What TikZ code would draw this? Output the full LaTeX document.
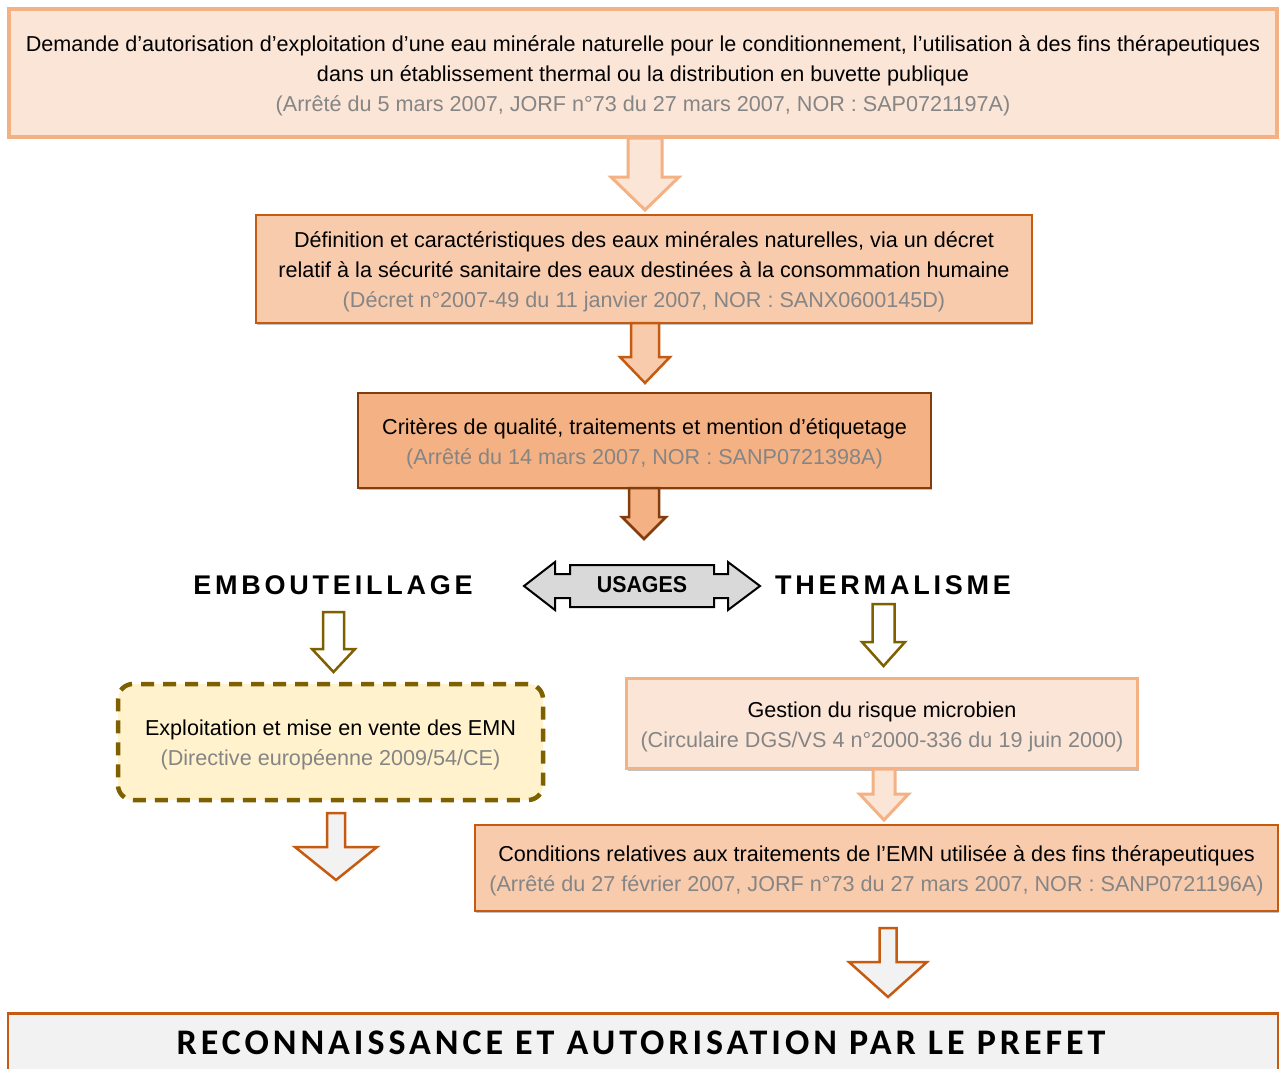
\documentclass[tikz,border=0pt]{standalone}
\usepackage{fontspec}
\setmainfont{Liberation Sans}
\newfontfamily\spacedfont[LetterSpace=14]{Liberation Sans}
\newfontfamily\calibfont[LetterSpace=11]{Carlito}
\newfontfamily\usagefont[FakeStretch=0.93]{Liberation Sans}
\usetikzlibrary{shadows}
\definecolor{peachL}{HTML}{FBE5D6}
\definecolor{peachLb}{HTML}{F4B183}
\definecolor{peachM}{HTML}{F8CBAD}
\definecolor{peachMb}{HTML}{C55A11}
\definecolor{peachD}{HTML}{F4B183}
\definecolor{peachDb}{HTML}{843C0C}
\definecolor{olive}{HTML}{7F6000}
\definecolor{creamy}{HTML}{FFF2CC}
\definecolor{lightgr}{HTML}{F2F2F2}
\definecolor{usagegr}{HTML}{D9D9D9}
\definecolor{refgray}{HTML}{858585}
\newcommand{\barrow}[7]{%
  \draw[#1] ({#2-#4},#3) -- ({#2+#4},#3) -- ({#2+#4},#5) -- ({#2+#6},#5)
    -- (#2,#7) -- ({#2-#6},#5) -- ({#2-#4},#5) -- cycle;}
\newcommand{\refs}[1]{\textcolor{refgray}{#1}}
\begin{document}
\begin{tikzpicture}[x=1pt,y=-1pt,
  box/.style={draw, rectangle, inner sep=0pt},
  txt/.style={align=center, inner sep=0pt, font=\fontsize{21.6}{30}\selectfont},
  shad/.style={drop shadow={shadow xshift=1pt,shadow yshift=-2pt,fill=black!40,opacity=0.6}},
  lightbox/.style={box, shad, fill=peachL, draw=peachLb, line width=3.5pt},
  midbox/.style={box, shad, fill=peachM, draw=peachMb, line width=2.5pt},
  darkbox/.style={box, shad, fill=peachD, draw=peachDb, line width=2.5pt},
  lightarr/.style={fill=peachL, draw=peachLb, line width=3pt, line join=miter},
  midarr/.style={fill=peachM, draw=peachMb, line width=2.5pt, line join=miter},
  darkarr/.style={fill=peachD, draw=peachDb, line width=2.5pt, line join=miter},
  olivearr/.style={fill=white, draw=olive, line width=2.5pt, line join=miter},
  grayarr/.style={fill=lightgr, draw=peachMb, line width=2.5pt, line join=miter},
  usagetitle/.style={font=\spacedfont\fontsize{27}{30}\selectfont\bfseries, inner sep=0pt},
]
\useasboundingbox (0,0) rectangle (1279,1068);

% boxes
\node[lightbox, minimum width=1268pt, minimum height=128pt] (b1) at (643,73) {};
\node[txt] (b1t) at (643,76)
  {Demande d’autorisation d’exploitation d’une eau minérale naturelle pour le conditionnement, l’utilisation à des fins thérapeutiques\\
   dans un établissement thermal ou la distribution en buvette publique\\
   \refs{(Arrêté du 5 mars 2007, JORF n°73 du 27 mars 2007, NOR : SAP0721197A)}};

\node[midbox, minimum width=776pt, minimum height=108pt] (b2) at (644,269) {};
\node[txt] (b2t) at (644,272)
  {Définition et caractéristiques des eaux minérales naturelles, via un décret\\
   relatif à la sécurité sanitaire des eaux destinées à la consommation humaine\\
   \refs{(Décret n°2007-49 du 11 janvier 2007, NOR : SANX0600145D)}};

\node[darkbox, minimum width=573pt, minimum height=95pt] (b3) at (644.5,440.5) {};
\node[txt] (b3t) at (644.5,443.5)
  {Critères de qualité, traitements et mention d’étiquetage\\
   \refs{(Arrêté du 14 mars 2007, NOR : SANP0721398A)}};

\node[lightbox, minimum width=511pt, minimum height=90pt] (gest) at (882,723.5) {};
\node[txt] (gestt) at (882,726.5)
  {Gestion du risque microbien\\
   \refs{(Circulaire DGS/VS 4 n°2000-336 du 19 juin 2000)}};

\node[midbox, minimum width=803pt, minimum height=86pt] (cond) at (876.5,868) {};
\node[txt] (condt) at (876.5,871)
  {Conditions relatives aux traitements de l’EMN utilisée à des fins thérapeutiques\\
   \refs{(Arrêté du 27 février 2007, JORF n°73 du 27 mars 2007, NOR : SANP0721196A)}};

\node[box, fill=creamy, draw=olive, line width=4.5pt, dash pattern=on 13pt off 9pt,
      rounded corners=15pt, minimum width=425pt, minimum height=116pt] (emn) at (330.5,742) {};
\node[txt] (emnt) at (330.5,745)
  {Exploitation et mise en vente des EMN\\
   \refs{(Directive européenne 2009/54/CE)}};

\node[box, shad, fill=lightgr, draw=peachMb, line width=2.5pt,
      minimum width=1270pt, minimum height=70pt, anchor=north] (pref) at (643,1012) {};
\node[font=\calibfont\fontsize{36}{40}\selectfont\bfseries, inner sep=0pt] (preft) at (641,1043)
  {RECONNAISSANCE ET AUTORISATION PAR LE PREFET};

% usages
\draw[fill=usagegr, draw=black, line width=2pt, line join=miter]
  (524,586) -- (555,562) -- (555,574) -- (570,574) -- (570,565) -- (714,565)
  -- (714,574) -- (728,574) -- (728,562) -- (760,586) -- (728,610) -- (728,598)
  -- (714,598) -- (714,607) -- (570,607) -- (570,598) -- (555,598) -- (555,610) -- cycle;
\node[font=\usagefont\fontsize{23}{26}\selectfont\bfseries, inner sep=0pt] (usg) at (642,585) {USAGES};
\node[usagetitle] (embt) at (333,585) {EMBOUTEILLAGE};
\node[usagetitle] (therm) at (893,585) {THERMALISME};

% block arrows
\barrow{lightarr}{645}{138}{17}{177}{34}{210}
\barrow{midarr}{645}{323}{14}{357}{25}{383}
\barrow{darkarr}{644}{488}{15}{517}{22}{539}
\barrow{olivearr}{333.5}{612}{10.5}{649}{21.5}{672}
\barrow{olivearr}{883.5}{604}{11}{642}{21.5}{666}
\barrow{grayarr}{336}{813}{9}{847}{41}{880}
\barrow{lightarr}{884}{769}{11}{794}{24.5}{820}
\barrow{grayarr}{888}{928}{8.5}{962}{39}{997}
\end{tikzpicture}
\end{document}
